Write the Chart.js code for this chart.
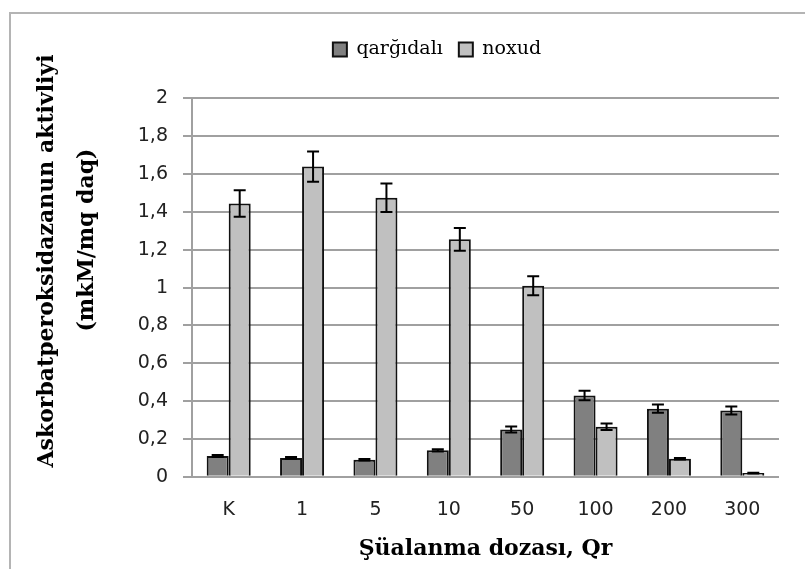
<!DOCTYPE html>
<html>
<head>
<meta charset="utf-8">
<script src="https://cdn.jsdelivr.net/npm/chart.js@4.4.1/dist/chart.umd.min.js"></script>
<style>
    body { margin: 0; overflow: hidden; background: #fff; }
    #wrap { position: relative; width: 805px; height: 569px; }
    #frame {
        position: absolute; left: 9px; top: 12px; width: 900px; height: 700px;
        border-left: 2px solid #b4b4b4; border-top: 2px solid #b4b4b4;
        pointer-events: none;
    }
</style>
</head>
<body>
<div id="wrap">
    <div id="frame"></div>
    <canvas id="barChart" width="805" height="569"></canvas>
</div>
<script>
// DATA
var doses = ['K', '1', '5', '10', '50', '100', '200', '300'];
var qargidali = [0.11, 0.10, 0.09, 0.14, 0.25, 0.43, 0.36, 0.35];
var qargidaliErr = [0.005, 0.005, 0.004, 0.006, 0.016, 0.025, 0.022, 0.021];
var noxud = [1.445, 1.64, 1.475, 1.255, 1.01, 0.265, 0.095, 0.02];
var noxudErr = [0.07, 0.08, 0.075, 0.06, 0.05, 0.017, 0.004, 0.002];
var yTickLabels = ['0', '0,2', '0,4', '0,6', '0,8', '1', '1,2', '1,4', '1,6', '1,8', '2'];
var yTitleLines = ['Askorbatperoksidazanun aktivliyi', '(mkM/mq daq)'];

// ERROR BARS
var errorBars = {
    id: 'errorBars',
    afterDatasetsDraw: function (chart) {
        var ctx = chart.ctx;
        var y = chart.scales.y;
        chart.data.datasets.forEach(function (ds, i) {
            var meta = chart.getDatasetMeta(i);
            meta.data.forEach(function (bar, j) {
                var top = y.getPixelForValue(ds.data[j] + ds.errors[j]);
                var bot = y.getPixelForValue(ds.data[j] - ds.errors[j]);
                ctx.save();
                ctx.strokeStyle = '#000';
                ctx.lineWidth = 2;
                ctx.beginPath();
                ctx.moveTo(bar.x, top);
                ctx.lineTo(bar.x, bot);
                ctx.moveTo(bar.x - 6, top);
                ctx.lineTo(bar.x + 6, top);
                ctx.moveTo(bar.x - 6, bot);
                ctx.lineTo(bar.x + 6, bot);
                ctx.stroke();
                ctx.restore();
            });
        });
    }
};

// Y AXIS TITLE (two lines, each centred on its own spot like in the original)
var yTitle = {
    id: 'yTitle',
    afterDraw: function (chart) {
        var ctx = chart.ctx;
        var spots = [[47, 261], [87, 240]];
        ctx.save();
        ctx.fillStyle = '#000';
        ctx.font = 'bold 22px "DejaVu Serif"';
        ctx.textAlign = 'center';
        ctx.textBaseline = 'middle';
        yTitleLines.forEach(function (line, i) {
            ctx.save();
            ctx.translate(spots[i][0], spots[i][1]);
            ctx.rotate(-Math.PI / 2);
            ctx.fillText(line, 0, 0);
            ctx.restore();
        });
        ctx.restore();
    }
};

var barCtx = document.getElementById('barChart').getContext('2d');
window.barChart = new Chart(barCtx, {
    type: 'bar',
    data: {
        labels: doses,
        datasets: [
            {
                label: 'qarğıdalı',
                data: qargidali,
                errors: qargidaliErr,
                backgroundColor: '#808080',
                borderColor: '#111',
                borderWidth: 2
            },
            {
                label: 'noxud',
                data: noxud,
                errors: noxudErr,
                backgroundColor: '#c0c0c0',
                borderColor: '#111',
                borderWidth: 2
            }
        ]
    },
    plugins: [errorBars, yTitle],
    options: {
        responsive: false,
        animation: false,
        categoryPercentage: 0.6,
        barPercentage: 1,
        layout: {
            padding: { top: 24, left: 95, right: 26, bottom: 0 }
        },
        plugins: {
            legend: {
                position: 'top',
                labels: {
                    boxWidth: 14,
                    boxHeight: 14,
                    padding: 16,
                    color: '#000',
                    font: { family: 'DejaVu Serif', size: 19 }
                }
            },
            subtitle: {
                display: true,
                text: '',
                weight: 500,
                font: { size: 12 },
                padding: { top: 0, bottom: 15 }
            },
            tooltip: { enabled: false }
        },
        scales: {
            x: {
                grid: { display: false, drawTicks: false },
                border: { display: false },
                ticks: {
                    color: '#222',
                    padding: 22,
                    font: { family: 'DejaVu Sans', size: 19 }
                },
                title: {
                    display: true,
                    text: 'Şüalanma dozası, Qr',
                    color: '#000',
                    font: { family: 'DejaVu Serif', size: 22, weight: 'bold' },
                    padding: { top: -8, bottom: 7 }
                }
            },
            y: {
                min: 0,
                max: 2,
                afterFit: function (scale) {
                    scale.width = 97;
                },
                ticks: {
                    stepSize: 0.2,
                    color: '#222',
                    padding: 15,
                    font: { family: 'DejaVu Sans', size: 19 },
                    callback: function (value, index) {
                        return yTickLabels[index];
                    }
                },
                grid: {
                    color: '#a0a0a0',
                    lineWidth: 2,
                    tickLength: 9
                },
                border: { color: '#a0a0a0', width: 2 }
            }
        }
    }
});
</script>
</body>
</html>
